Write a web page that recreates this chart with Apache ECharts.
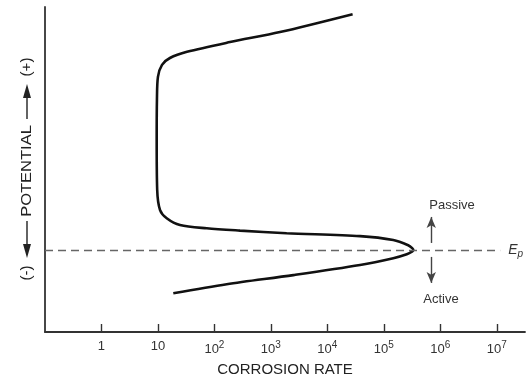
<!DOCTYPE html>
<html>
<head>
<meta charset="utf-8">
<script src="https://cdn.jsdelivr.net/npm/echarts@6/dist/echarts.min.js"></script>
<style>
html, body { margin: 0; padding: 0; background: #fff; }
#main { width: 527px; height: 383px; }
</style>
</head>
<body>
<div id="main"></div>
<script>
// corrosion rate along the polarization curve, from the active end to the transpassive end
var rate = [18.7, 165, 2500, 37900, 147000, 255000, 320000, 333000, 318000, 270000, 147000, 37900, 1900, 284, 73, 24.6, 14.3, 10.9, 9.7, 9.5, 9.6, 10, 11.8, 16.3, 32.7, 189, 1450, 28000];
// potential (arbitrary units, 0 = bottom of the axis)
var potential = [11.9, 14.7, 17.5, 20.6, 22.7, 23.9, 24.8, 25.2, 25.8, 26.7, 28.3, 29.5, 30.4, 31.2, 31.9, 32.9, 35, 37.5, 43.7, 59, 71.4, 78.5, 82.2, 84.3, 86.2, 89.2, 92.3, 97.8];
// decades shown on the x axis (10^n)
var tickExponents = [0, 1, 2, 3, 4, 5, 6, 7];
// passivation potential Ep and the arrows beside it
var ep = 25.2;
var epLineEnd = 7.06;      // log10 rate where the dashed line stops
var arrowX = 5.84;          // log10 rate of the arrows
var passiveArrow = [27.4, 35.4];
var activeArrow = [23.1, 15.1];

var chart = echarts.init(document.getElementById('main'));

var curve = rate.map(function (r, i) {
  return [Math.log10(r), potential[i]];
});

function tickText(v) {
  if (v === 0) return '1';
  if (v === 1) return '10';
  return '10{s|' + v + '}';
}

chart.setOption({
  animation: false,
  grid: { left: 45, right: 2, top: 7, bottom: 51 },
  xAxis: {
    type: 'value',
    min: -1,
    max: 7.5,
    name: 'CORROSION RATE',
    nameLocation: 'middle',
    nameGap: 30,
    nameTextStyle: { fontFamily: 'Liberation Sans', fontSize: 15, color: '#222' },
    axisLine: { onZero: false, lineStyle: { color: '#333', width: 1.8 } },
    axisTick: { inside: true, length: 8, customValues: tickExponents, lineStyle: { color: '#333', width: 1.4 } },
    axisLabel: {
      customValues: tickExponents,
      margin: 8,
      fontFamily: 'Liberation Sans',
      fontSize: 13,
      color: '#333',
      formatter: tickText,
      rich: {
        s: { fontFamily: 'Liberation Sans', fontSize: 10, color: '#333', padding: [0, 0, 8, 0] }
      }
    },
    splitLine: { show: false }
  },
  yAxis: {
    type: 'value',
    min: 0,
    max: 100,
    axisLine: { show: true, onZero: false, lineStyle: { color: '#333', width: 1.8 } },
    axisTick: { show: false },
    axisLabel: { show: false },
    splitLine: { show: false }
  },
  series: [{
    type: 'line',
    data: curve,
    smooth: 0.3,
    symbol: 'none',
    lineStyle: { color: '#111', width: 2.6 },
    markLine: {
      silent: true,
      animation: false,
      data: [
        [
          { coord: [-1, ep], symbol: 'none', lineStyle: { color: '#666', width: 1.4, type: [8, 5] },
            label: { show: true, position: 'end', distance: 8, formatter: '{e|E}{p|p}',
              rich: {
                e: { fontFamily: 'Liberation Sans', fontStyle: 'italic', fontSize: 14, color: '#333' },
                p: { fontFamily: 'Liberation Sans', fontStyle: 'italic', fontSize: 10, color: '#333', padding: [8, 0, 0, 0] }
              } } },
          { coord: [epLineEnd, ep], symbol: 'none' }
        ],
        [
          { coord: [arrowX, passiveArrow[0]], symbol: 'none', lineStyle: { color: '#444', width: 1.4, type: 'solid' }, label: { show: false } },
          { coord: [arrowX, passiveArrow[1]], symbol: 'arrow', symbolSize: [7, 11] }
        ],
        [
          { coord: [arrowX, activeArrow[0]], symbol: 'none', lineStyle: { color: '#444', width: 1.4, type: 'solid' }, label: { show: false } },
          { coord: [arrowX, activeArrow[1]], symbol: 'arrow', symbolSize: [7, 11] }
        ]
      ]
    }
  }]
});

// text annotations placed from data coordinates
var pPassive = chart.convertToPixel({ gridIndex: 0 }, [arrowX, passiveArrow[1]]);
var pActive = chart.convertToPixel({ gridIndex: 0 }, [arrowX, activeArrow[1]]);
var gl = chart.convertToPixel({ gridIndex: 0 }, [-1, 50]);

var axisFont = { fontFamily: 'Liberation Sans', fontSize: 15, fill: '#222' };

chart.setOption({
  graphic: [
    {
      type: 'text', left: pPassive[0] - 2, top: pPassive[1] - 18,
      style: { text: 'Passive', fontFamily: 'Liberation Sans', fontSize: 13, fill: '#333' }
    },
    {
      type: 'text', left: pActive[0] - 8, top: pActive[1] + 10,
      style: { text: 'Active', fontFamily: 'Liberation Sans', fontSize: 13, fill: '#333' }
    },
    {
      type: 'group', x: gl[0] - 18, y: 170, rotation: Math.PI / 2,
      children: [
        { type: 'text', x: -103, y: 0, style: Object.assign({ text: '(-)', align: 'center', verticalAlign: 'middle' }, axisFont) },
        { type: 'polygon', shape: { points: [[-88, 0], [-74, -4], [-74, 4]] }, style: { fill: '#222' } },
        { type: 'line', shape: { x1: -74, y1: 0, x2: -51, y2: 0 }, style: { stroke: '#222', lineWidth: 1.4 } },
        { type: 'text', x: -1, y: 0, scaleX: 1.1, style: Object.assign({ text: 'POTENTIAL', align: 'center', verticalAlign: 'middle' }, axisFont) },
        { type: 'line', shape: { x1: 51, y1: 0, x2: 72, y2: 0 }, style: { stroke: '#222', lineWidth: 1.4 } },
        { type: 'polygon', shape: { points: [[86, 0], [72, -4], [72, 4]] }, style: { fill: '#222' } },
        { type: 'text', x: 103, y: 0, style: Object.assign({ text: '(+)', align: 'center', verticalAlign: 'middle' }, axisFont) }
      ]
    }
  ]
});
</script>
</body>
</html>
